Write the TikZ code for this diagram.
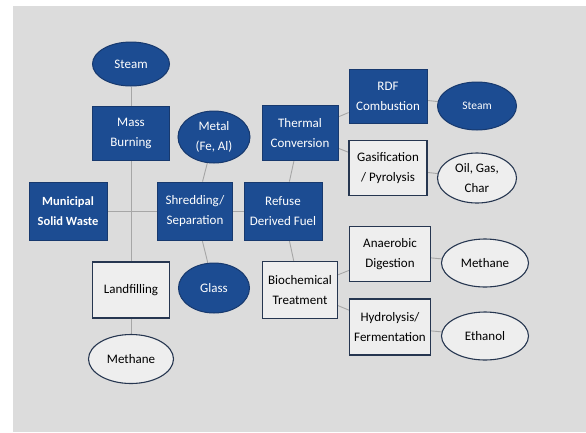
\documentclass[tikz,border=0pt]{standalone}
\usepackage{fontspec}
\setmainfont{Carlito}
\usetikzlibrary{shapes.geometric,backgrounds}
\definecolor{bg}{HTML}{DCDCDC}
\definecolor{bluefill}{HTML}{1C4C92}
\definecolor{blueedge}{HTML}{17396E}
\definecolor{darkedge}{HTML}{263650}
\definecolor{wfill}{HTML}{EEEEEE}
\definecolor{conn}{HTML}{A6A6A6}
\tikzset{
  txt/.style={font=\fontsize{13}{20}\selectfont},
  bbox/.style={rectangle, draw=blueedge, line width=0.8pt, fill=bluefill, text=white, align=center, txt, inner sep=0pt},
  wbox/.style={rectangle, draw=darkedge, line width=1.1pt, fill=wfill, text=black, align=center, txt, inner sep=0pt},
  bell/.style={ellipse, draw=blueedge, line width=1pt, fill=bluefill, text=white, align=center, txt, inner sep=0pt},
  well/.style={ellipse, draw=darkedge, line width=1.1pt, fill=wfill, text=black, align=center, txt, inner sep=0pt},
  cline/.style={draw=conn, line width=0.9pt}
}
\begin{document}
\begin{tikzpicture}[x=1pt,y=-1pt]
\useasboundingbox (0,0) rectangle (586,432);
% nodes
\node[bell, minimum width=77pt, minimum height=44pt] (steam1) at (131,64) {Steam};
\node[bbox, minimum width=77pt, minimum height=54pt] (mass) at (131,133) {Mass\\Burning};
\node[bell, minimum width=72pt, minimum height=52pt] (metal) at (214,137) {Metal\\(Fe, Al)};
\node[bbox, minimum width=76pt, minimum height=55pt] (thermal) at (300,133) {Thermal\\Conversion};
\node[bbox, minimum width=78pt, minimum height=54pt] (rdfc) at (388,96) {RDF\\Combustion};
\node[bell, minimum width=79pt, minimum height=48pt, font=\fontsize{11.5}{14}\selectfont] (steam2) at (477,106) {Steam};
\node[wbox, minimum width=78pt, minimum height=55pt] (gasif) at (388,168) {Gasification\\/ Pyrolysis};
\node[well, minimum width=79pt, minimum height=50pt] (oil) at (477,178) {Oil, Gas,\\Char};
\node[bbox, minimum width=78pt, minimum height=58pt, font=\bfseries\fontsize{12.5}{20}\selectfont] (msw) at (68,211) {Municipal\\Solid Waste};
\node[bbox, minimum width=75pt, minimum height=58pt] (shred) at (195,211) {Shredding/\\Separation};
\node[bbox, minimum width=78pt, minimum height=58pt] (refuse) at (283,211) {Refuse\\Derived Fuel};
\node[wbox, minimum width=77pt, minimum height=56pt] (land) at (131,290) {Landfilling};
\node[bell, minimum width=71pt, minimum height=50pt] (glass) at (214,288) {Glass};
\node[wbox, minimum width=75pt, minimum height=57pt] (bio) at (300,290) {Biochemical\\Treatment};
\node[well, minimum width=85pt, minimum height=49pt] (meth1) at (131,359) {Methane};
\node[wbox, minimum width=81pt, minimum height=55pt] (anaer) at (390,254) {Anaerobic\\Digestion};
\node[well, minimum width=87pt, minimum height=48pt] (meth2) at (485,263) {Methane};
\node[wbox, minimum width=81pt, minimum height=56pt] (hydro) at (390,327) {Hydrolysis/\\Fermentation};
\node[well, minimum width=87pt, minimum height=48pt] (eth) at (485,336) {Ethanol};
% background and connectors
\begin{scope}[on background layer]
\fill[white] (0,0) rectangle (586,432);
\fill[bg] (13,6) rectangle (586,432);
\draw[cline] (steam1.south) -- (meth1.north);
\draw[cline] (msw.east) -- (refuse.west);
\draw[cline] (metal) -- (shred);
\draw[cline] (glass) -- (shred);
\draw[cline] (refuse) -- (thermal);
\draw[cline] (refuse) -- (bio);
\draw[cline] (thermal) -- (rdfc);
\draw[cline] (thermal) -- (gasif);
\draw[cline] (rdfc) -- (steam2);
\draw[cline] (gasif) -- (oil);
\draw[cline] (bio) -- (anaer);
\draw[cline] (bio) -- (hydro);
\draw[cline] (anaer) -- (meth2);
\draw[cline] (hydro) -- (eth);
\end{scope}
\end{tikzpicture}
\end{document}
